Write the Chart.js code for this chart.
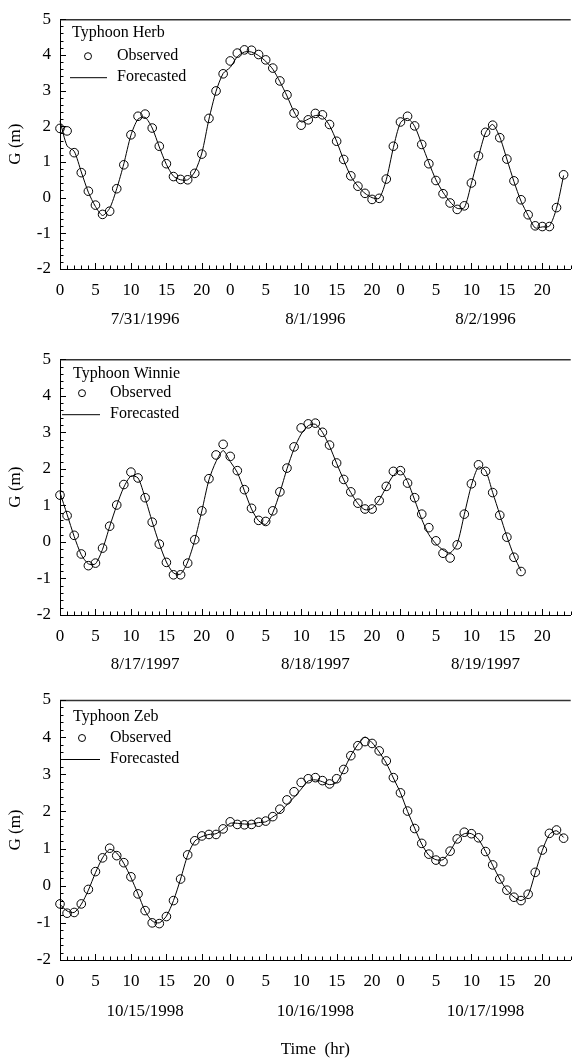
<!DOCTYPE html>
<html>
<head>
<meta charset="utf-8">
<script src="https://cdn.jsdelivr.net/npm/chart.js@4.4.0/dist/chart.umd.min.js"></script>
<style>
  html, body { margin: 0; padding: 0; background: #fff; }
  canvas { display: block; }
</style>
</head>
<body>
<canvas id="c1" width="576" height="340"></canvas>
<canvas id="c2" width="576" height="340"></canvas>
<canvas id="c3" width="576" height="381"></canvas>
<script>
// tick values on the time axis (hours since start) and their labels
const xTickValues = [0, 5, 10, 15, 20, 24, 29, 34, 39, 44, 48, 53, 58, 63, 68];
const xTickLabels = ['0', '5', '10', '15', '20', '0', '5', '10', '15', '20', '0', '5', '10', '15', '20'];
const yTickValues = [-2, -1, 0, 1, 2, 3, 4, 5];
const dateCenters = [12, 36, 60]; // hour at which each date label sits

// Typhoon Herb
const herbDates = ['7/31/1996', '8/1/1996', '8/2/1996'];
const herbObserved = [1.94, 1.87, 1.26, 0.70, 0.18, -0.21, -0.47, -0.38, 0.25, 0.92, 1.76, 2.28, 2.34, 1.95, 1.44, 0.95, 0.59, 0.51, 0.50, 0.68, 1.22, 2.22, 2.99, 3.47,
  3.83, 4.05, 4.14, 4.13, 4.01, 3.86, 3.63, 3.27, 2.88, 2.37, 2.03, 2.18, 2.36, 2.32, 2.05, 1.58, 1.07, 0.61, 0.32, 0.12, -0.05, -0.02, 0.52, 1.44,
  2.12, 2.28, 2.01, 1.49, 0.95, 0.48, 0.11, -0.15, -0.33, -0.23, 0.41, 1.17, 1.83, 2.03, 1.68, 1.08, 0.47, -0.06, -0.48, -0.79, -0.81, -0.81, -0.28, 0.64];
const herbForecast = [2.15, 1.45, 1.30, 0.72, 0.15, -0.25, -0.50, -0.30, 0.25, 0.95, 1.75, 2.20, 2.25, 1.95, 1.42, 0.93, 0.60, 0.50, 0.50, 0.72, 1.25, 2.20, 2.98, 3.48,
  3.65, 3.95, 4.08, 4.08, 3.98, 3.82, 3.60, 3.25, 2.85, 2.40, 2.12, 2.20, 2.30, 2.28, 2.02, 1.58, 1.05, 0.60, 0.32, 0.12, 0.00, -0.02, 0.50, 1.40,
  2.10, 2.22, 2.00, 1.50, 0.98, 0.50, 0.15, -0.12, -0.30, -0.28, 0.40, 1.15, 1.82, 2.05, 1.70, 1.08, 0.45, -0.10, -0.50, -0.85, -0.82, -0.80, -0.30, 0.62];

// Typhoon Winnie
const winnieDates = ['8/17/1997', '8/18/1997', '8/19/1997'];
const winnieObserved = [1.28, 0.72, 0.18, -0.33, -0.65, -0.58, -0.17, 0.43, 1.01, 1.57, 1.91, 1.75, 1.21, 0.54, -0.06, -0.56, -0.90, -0.90, -0.58, 0.06, 0.85, 1.73, 2.38, 2.67,
  2.34, 1.95, 1.43, 0.92, 0.59, 0.56, 0.85, 1.37, 2.02, 2.60, 3.12, 3.23, 3.25, 3.00, 2.65, 2.16, 1.71, 1.37, 1.06, 0.90, 0.90, 1.13, 1.52, 1.93,
  1.95, 1.61, 1.21, 0.76, 0.39, 0.03, -0.31, -0.44, -0.08, 0.76, 1.59, 2.11, 1.93, 1.35, 0.73, 0.13, -0.42, -0.81];
const winnieForecast = [1.35, 0.75, 0.15, -0.35, -0.60, -0.60, -0.20, 0.42, 1.00, 1.50, 1.80, 1.75, 1.20, 0.55, -0.05, -0.55, -0.85, -0.88, -0.55, 0.05, 0.85, 1.70, 2.20, 2.50,
  2.20, 1.90, 1.40, 0.90, 0.58, 0.48, 0.80, 1.35, 2.00, 2.55, 2.95, 3.18, 3.22, 3.00, 2.62, 2.15, 1.70, 1.35, 1.05, 0.88, 0.92, 1.15, 1.50, 1.82,
  1.95, 1.65, 1.15, 0.62, 0.20, -0.05, -0.22, -0.30, -0.05, 0.75, 1.55, 2.05, 1.95, 1.35, 0.75, 0.15, -0.38, -0.80];

// Typhoon Zeb
const zebDates = ['10/15/1998', '10/16/1998', '10/17/1998'];
const zebObserved = [-0.49, -0.74, -0.72, -0.49, -0.10, 0.38, 0.75, 1.01, 0.81, 0.62, 0.24, -0.22, -0.67, -1.00, -1.02, -0.83, -0.40, 0.18, 0.83, 1.21, 1.34, 1.38, 1.38, 1.53,
  1.72, 1.65, 1.64, 1.65, 1.71, 1.74, 1.86, 2.06, 2.31, 2.53, 2.78, 2.88, 2.91, 2.83, 2.74, 2.88, 3.13, 3.50, 3.77, 3.88, 3.83, 3.63, 3.36, 2.91,
  2.50, 2.01, 1.54, 1.14, 0.85, 0.69, 0.65, 0.93, 1.26, 1.44, 1.40, 1.29, 0.92, 0.56, 0.18, -0.12, -0.31, -0.40, -0.23, 0.36, 0.96, 1.41, 1.50, 1.28];
const zebForecast = [-0.50, -0.68, -0.72, -0.50, -0.12, 0.35, 0.75, 0.98, 0.88, 0.60, 0.22, -0.22, -0.68, -0.95, -1.00, -0.82, -0.40, 0.18, 0.82, 1.20, 1.32, 1.38, 1.40, 1.52,
  1.68, 1.68, 1.66, 1.66, 1.70, 1.72, 1.85, 1.98, 2.18, 2.38, 2.60, 2.82, 2.85, 2.80, 2.72, 2.78, 3.12, 3.50, 3.80, 4.00, 3.85, 3.60, 3.30, 2.90,
  2.50, 2.00, 1.55, 1.12, 0.82, 0.70, 0.70, 0.93, 1.25, 1.40, 1.40, 1.25, 0.92, 0.55, 0.18, -0.12, -0.30, -0.40, -0.25, 0.35, 0.95, 1.38, 1.48, 1.30];

const FONT = "'Liberation Serif', 'Times New Roman', serif";

function toPoints(values) {
  return values.map((v, i) => ({ x: i, y: v }));
}

// ticks inside the frame, top border, date labels and the legend box
const decorPlugin = {
  id: 'decor',
  afterDraw(chart, args, opts) {
    const ctx = chart.ctx;
    const xs = chart.scales.x;
    const ys = chart.scales.y;
    const area = chart.chartArea;
    ctx.save();

    // top border
    ctx.beginPath();
    ctx.lineWidth = 1.5;
    ctx.strokeStyle = '#333';
    ctx.moveTo(area.left, area.top + 0.5);
    ctx.lineTo(area.right, area.top + 0.5);
    ctx.stroke();

    ctx.lineWidth = 1;
    ctx.strokeStyle = '#000';
    // x ticks, every hour
    for (let h = 0; h <= 72; h++) {
      const px = Math.round(xs.getPixelForValue(h)) + 0.5;
      const len = xTickValues.includes(h) ? 6 : 3.5;
      ctx.beginPath();
      ctx.moveTo(px, area.bottom);
      ctx.lineTo(px, area.bottom - len);
      ctx.stroke();
    }
    // y ticks, every 0.2 m
    for (let k = -10; k <= 25; k++) {
      const py = Math.round(ys.getPixelForValue(k / 5)) + 0.5;
      const len = k % 5 === 0 ? 6 : 3.5;
      ctx.beginPath();
      ctx.moveTo(area.left, py);
      ctx.lineTo(area.left + len, py);
      ctx.stroke();
    }

    ctx.fillStyle = '#000';
    ctx.font = '17px ' + FONT;
    ctx.textAlign = 'center';
    ctx.textBaseline = 'middle';
    opts.dates.forEach((d, i) => {
      ctx.fillText(d, xs.getPixelForValue(dateCenters[i]), area.bottom + opts.dateOffset);
    });

    // legend
    const lg = opts.legend;
    ctx.textAlign = 'left';
    ctx.font = '16px ' + FONT;
    ctx.fillText(opts.title, lg.titleX, area.top + lg.titleY);
    ctx.beginPath();
    ctx.arc(lg.circleX, area.top + lg.obsY, 3.5, 0, Math.PI * 2);
    ctx.stroke();
    ctx.fillText('Observed', lg.textX, area.top + lg.obsY);
    ctx.beginPath();
    ctx.moveTo(lg.lineX0, area.top + lg.fcY + 0.5);
    ctx.lineTo(lg.lineX1, area.top + lg.fcY + 0.5);
    ctx.stroke();
    ctx.fillText('Forecasted', lg.textX, area.top + lg.fcY);
    ctx.restore();
  }
};

function makePanel(id, p) {
  const canvas = document.getElementById(id);
  const ctx = canvas.getContext('2d');
  return new Chart(ctx, {
    type: 'line',
    data: {
      datasets: [
        {
          label: 'Observed',
          data: toPoints(p.observed),
          showLine: false,
          clip: false,
          pointStyle: 'circle',
          pointRadius: 4.3,
          pointBorderWidth: 1,
          pointBorderColor: '#000',
          pointBackgroundColor: 'rgba(0,0,0,0)'
        },
        {
          label: 'Forecasted',
          data: toPoints(p.forecast),
          clip: false,
          borderColor: '#000',
          borderWidth: 1,
          pointRadius: 0,
          tension: 0.25,
          fill: false
        }
      ]
    },
    options: {
      responsive: false,
      animation: false,
      layout: { padding: { top: p.top, left: 0, right: 0, bottom: 0 } },
      plugins: {
        legend: { display: false },
        tooltip: { enabled: false },
        decor: {
          title: p.title,
          dates: p.dates,
          dateOffset: p.dateOffset,
          legend: p.legend
        }
      },
      scales: {
        x: {
          type: 'linear',
          min: 0,
          max: 72,
          grid: { display: false, drawTicks: false },
          border: { display: true, color: '#000', width: 1 },
          afterBuildTicks: (scale) => { scale.ticks = xTickValues.map(v => ({ value: v })); },
          afterFit: (scale) => { scale.height = p.xHeight; },
          ticks: {
            padding: 11,
            maxRotation: 0,
            autoSkip: false,
            color: '#000',
            font: { family: FONT, size: 17 },
            callback: (v) => xTickLabels[xTickValues.indexOf(v)]
          },
          title: {
            display: !!p.xTitle,
            text: p.xTitle || '',
            color: '#000',
            font: { family: FONT, size: 17 },
            padding: { top: 0, bottom: 1 }
          }
        },
        y: {
          min: -2,
          max: 5,
          grid: { display: false, drawTicks: false },
          border: { display: true, color: '#000', width: 1 },
          afterBuildTicks: (scale) => { scale.ticks = yTickValues.map(v => ({ value: v })); },
          afterFit: (scale) => { scale.width = 60; },
          ticks: {
            padding: 9,
            color: '#000',
            font: { family: FONT, size: 17 },
            callback: (v) => String(v)
          },
          title: {
            display: true,
            text: 'G (m)',
            color: '#000',
            font: { family: FONT, size: 17 },
            padding: { top: 5, bottom: 0 }
          }
        }
      }
    },
    plugins: [decorPlugin]
  });
}

makePanel('c1', {
  title: 'Typhoon Herb', dates: herbDates, observed: herbObserved, forecast: herbForecast,
  top: 10, xHeight: 71, dateOffset: 51,
  legend: { titleX: 72, titleY: 14, circleX: 88, obsY: 37, textX: 117, lineX0: 70, lineX1: 107, fcY: 58 }
});
makePanel('c2', {
  title: 'Typhoon Winnie', dates: winnieDates, observed: winnieObserved, forecast: winnieForecast,
  top: 15, xHeight: 65, dateOffset: 50,
  legend: { titleX: 73, titleY: 15, circleX: 82, obsY: 34, textX: 110, lineX0: 62, lineX1: 100, fcY: 55 }
});
makePanel('c3', {
  title: 'Typhoon Zeb', dates: zebDates, observed: zebObserved, forecast: zebForecast,
  top: 20, xHeight: 101, dateOffset: 52, xTitle: 'Time  (hr)',
  legend: { titleX: 73, titleY: 17, circleX: 82, obsY: 38, textX: 110, lineX0: 62, lineX1: 100, fcY: 59 }
});
</script>
</body>
</html>
